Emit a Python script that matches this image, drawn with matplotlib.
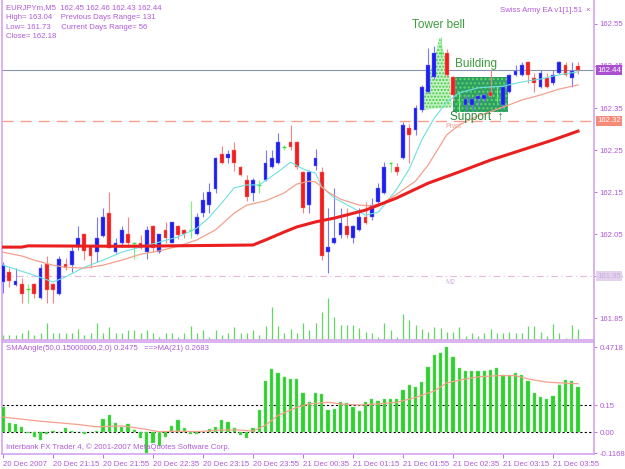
import matplotlib
matplotlib.use("Agg")
import matplotlib.pyplot as plt
from matplotlib.patches import Polygon, Rectangle

plt.rcParams['font.family'] = ['Liberation Sans', 'DejaVu Sans']

# ---- price bars (EURJPYm, M5), bar 0 = 20 Dec 20:35 ----
opens = [161.936, 161.960, 161.929, 161.931, 161.919, 161.931, 161.898, 161.979, 161.931, 161.907,
         161.979, 161.976, 162.019, 162.050, 162.019, 162.007, 162.045, 162.100, 162.007, 162.029,
         162.050, 162.029, 162.029, 162.007, 162.069, 162.007, 162.060, 162.029, 162.069, 162.060,
         162.060, 162.050, 162.100, 162.119, 162.157, 162.240, 162.231, 162.250, 162.210, 162.179,
         162.148, 162.167, 162.179, 162.210, 162.219, 162.257, 162.269, 162.269, 162.198, 162.119,
         162.212, 162.198, 162.007, 162.029, 162.048, 162.069, 162.040, 162.060, 162.090, 162.090,
         162.126, 162.148, 162.219, 162.210, 162.231, 162.302, 162.298, 162.345, 162.388, 162.424,
         162.482, 162.481, 162.424, 162.365, 162.357, 162.357, 162.371, 162.371, 162.388, 162.376,
         162.357, 162.388, 162.429, 162.429, 162.460, 162.421, 162.400, 162.421, 162.410, 162.433,
         162.452, 162.421, 162.450]
highs = [161.983, 161.969, 161.969, 161.945, 161.931, 161.933, 161.979, 161.998, 161.933, 161.998,
         161.993, 162.019, 162.069, 162.052, 162.021, 162.090, 162.112, 162.150, 162.040, 162.069,
         162.090, 162.031, 162.048, 162.069, 162.071, 162.050, 162.079, 162.079, 162.071, 162.062,
         162.129, 162.100, 162.150, 162.171, 162.233, 162.260, 162.250, 162.269, 162.212, 162.190,
         162.183, 162.179, 162.250, 162.250, 162.290, 162.262, 162.310, 162.271, 162.200, 162.202,
         162.252, 162.210, 162.112, 162.160, 162.112, 162.112, 162.071, 162.112, 162.126, 162.136,
         162.171, 162.221, 162.221, 162.219, 162.317, 162.312, 162.357, 162.405, 162.493, 162.498,
         162.519, 162.490, 162.426, 162.388, 162.381, 162.376, 162.386, 162.386, 162.440, 162.400,
         162.402, 162.431, 162.452, 162.460, 162.462, 162.433, 162.440, 162.433, 162.440, 162.462,
         162.460, 162.460, 162.460]
lows = [161.910, 161.924, 161.927, 161.886, 161.886, 161.898, 161.896, 161.886, 161.886, 161.905,
        161.964, 161.960, 162.012, 161.988, 161.969, 161.983, 162.043, 162.017, 162.005, 162.019,
        162.019, 161.990, 162.014, 161.990, 162.007, 162.005, 162.029, 162.029, 162.038, 162.040,
        162.040, 162.048, 162.090, 162.100, 162.148, 162.217, 162.219, 162.200, 162.188, 162.129,
        162.129, 162.148, 162.176, 162.207, 162.217, 162.250, 162.250, 162.205, 162.100, 162.100,
        162.202, 161.988, 161.957, 162.026, 162.040, 162.040, 162.029, 162.057, 162.074, 162.083,
        162.124, 162.145, 162.198, 162.190, 162.229, 162.219, 162.286, 162.340, 162.386, 162.420,
        162.470, 162.424, 162.369, 162.340, 162.345, 162.345, 162.352, 162.365, 162.376, 162.364,
        162.350, 162.386, 162.426, 162.426, 162.410, 162.388, 162.398, 162.398, 162.405, 162.431,
        162.426, 162.400, 162.430]
closes = [161.976, 161.938, 161.938, 161.907, 161.919, 161.907, 161.969, 161.917, 161.917, 161.990,
          161.969, 162.010, 162.040, 162.010, 161.998, 162.040, 162.090, 162.017, 162.029, 162.060,
          162.029, 162.029, 162.017, 162.060, 162.017, 162.050, 162.040, 162.079, 162.048, 162.050,
          162.060, 162.090, 162.131, 162.150, 162.231, 162.219, 162.240, 162.219, 162.190, 162.138,
          162.179, 162.167, 162.219, 162.231, 162.269, 162.257, 162.257, 162.210, 162.112, 162.198,
          162.231, 161.998, 162.019, 162.040, 162.076, 162.048, 162.069, 162.090, 162.076, 162.119,
          162.160, 162.210, 162.219, 162.198, 162.310, 162.286, 162.350, 162.400, 162.452, 162.481,
          162.482, 162.429, 162.381, 162.365, 162.371, 162.371, 162.379, 162.381, 162.379, 162.376,
          162.400, 162.429, 162.438, 162.452, 162.429, 162.410, 162.433, 162.400, 162.429, 162.460,
          162.429, 162.438, 162.440]
volumes = [15, 15, 15, 20, 30, 15, 20, 52, 20, 20, 20, 22, 32, 15, 22, 52, 20, 38, 22, 22,
           30, 30, 20, 30, 20, 10, 20, 20, 10, 20, 42, 22, 30, 10, 30, 15, 20, 40, 20, 20,
           30, 15, 42, 100, 42, 20, 32, 22, 50, 30, 52, 85, 125, 70, 45, 45, 45, 37, 25, 20,
           10, 52, 30, 10, 78, 60, 45, 32, 25, 40, 35, 25, 25, 40, 12, 20, 12, 20, 32, 20,
           20, 25, 20, 20, 42, 42, 25, 12, 48, 20, 5, 45, 32]

# ---- moving averages (bar index, price) ----
fast_ma_idx = [0, 5, 8, 10, 13, 16, 19, 22, 25, 28, 31, 33, 35, 37, 39, 41, 44, 46, 48, 50,
               51, 53, 56, 58, 60, 61, 63, 65, 67, 69, 71, 73, 76, 80, 83, 86, 89, 92]
fast_ma = [161.976, 161.952, 161.936, 161.948, 161.971, 161.988, 162.007, 162.019, 162.031, 162.043,
           162.064, 162.090, 162.124, 162.160, 162.167, 162.167, 162.198, 162.221, 162.205, 162.195,
           162.162, 162.136, 162.112, 162.095, 162.102, 162.119, 162.157, 162.205, 162.274, 162.326,
           162.364, 162.386, 162.398, 162.402, 162.412, 162.419, 162.429, 162.436]
slow_ma_idx = [0, 3, 5, 8, 10, 13, 16, 19, 22, 25, 28, 31, 34, 37, 39, 42, 45, 47, 49, 50,
               52, 54, 57, 59, 61, 63, 66, 68, 69, 71, 73, 76, 80, 83, 86, 89, 92]
slow_ma = [162.007, 161.998, 161.988, 161.976, 161.971, 161.969, 161.976, 161.988, 162.002, 162.010,
           162.021, 162.036, 162.060, 162.100, 162.119, 162.129, 162.148, 162.169, 162.176, 162.174,
           162.150, 162.133, 162.119, 162.117, 162.126, 162.145, 162.176, 162.214, 162.238, 162.286,
           162.310, 162.331, 162.352, 162.369, 162.381, 162.395, 162.405]
ma50_idx = [0, 3, 4, 20, 40, 42, 45, 47, 50, 53, 58, 63, 68, 73, 78, 83, 88, 92]
ma50 = [162.019, 162.019, 162.022, 162.021, 162.024, 162.036, 162.055, 162.067, 162.079, 162.088,
        162.107, 162.136, 162.171, 162.198, 162.226, 162.250, 162.274, 162.295]

# ---- SMAAngle sub window ----
angle = [0.137, 0.052, 0.042, 0.029, -0.007, -0.025, -0.043, -0.013, 0.005, 0.002,
         0.024, 0.005, 0.002, -0.011, 0.002, 0.005, 0.071, 0.092, 0.052, 0.029,
         0.042, 0.011, -0.034, -0.1168, -0.060, -0.075, -0.030, 0.034, 0.065, 0.020,
         -0.013, -0.013, 0.002, 0.016, 0.029, 0.065, 0.056, 0.024, -0.016, -0.034,
         0.020, 0.125, 0.282, 0.351, 0.327, 0.304, 0.295, 0.295, 0.219, 0.165,
         0.215, 0.210, 0.125, 0.128, 0.165, 0.161, 0.137, 0.119, 0.165, 0.183,
         0.174, 0.186, 0.186, 0.183, 0.233, 0.259, 0.251, 0.277, 0.363, 0.427,
         0.439, 0.4718, 0.414, 0.354, 0.340, 0.340, 0.340, 0.340, 0.345, 0.354,
         0.318, 0.318, 0.327, 0.318, 0.282, 0.219, 0.192, 0.186, 0.201, 0.259,
         0.291, 0.282, 0.2475]
angle_ma_idx = [0, 6, 12, 15, 19, 22, 25, 28, 31, 35, 38, 40, 42, 44, 47, 49, 52, 54, 57, 60,
                63, 66, 69, 71, 74, 76, 79, 82, 84, 87, 89, 92]
angle_ma = [0.083, 0.060, 0.042, 0.029, 0.034, 0.020, 0.002, 0.005, 0.002, 0.011, 0.011, 0.005,
            0.038, 0.092, 0.137, 0.156, 0.165, 0.156, 0.150, 0.156, 0.165, 0.192, 0.228, 0.273,
            0.295, 0.306, 0.313, 0.313, 0.295, 0.277, 0.273, 0.2683]

time_tick_idx = [0, 8, 16, 24, 32, 40, 48, 56, 64, 72, 80, 88]
time_labels = ["20 Dec 2007", "20 Dec 21:15", "20 Dec 21:55", "20 Dec 22:35", "20 Dec 23:15",
               "20 Dec 23:55", "21 Dec 00:35", "21 Dec 01:15", "21 Dec 01:55", "21 Dec 02:35",
               "21 Dec 03:15", "21 Dec 03:55"]
price_ticks = [161.85, 161.95, 162.05, 162.15, 162.25, 162.35, 162.45, 162.55]
angle_ticks = [0.4718, 0.15, 0.0, -0.1168]
angle_tick_labels = ["0.4718", "0.15", "0.00", "-0.1168"]

# chart objects (time index, price)
tower_bell = [(66.7, 162.345), (69.9, 162.519), (71.4, 162.429), (71.8, 162.352)]
building_box = (72.0, 162.340, 80.8, 162.424)
bid_price = 162.44
pivot = 162.32
m2 = 161.95

PURPLE = '#b05ad8'
FRAME = '#d4a4ec'
W, H = 625, 469
FS = 5.6


def px_rect(x0, y0, x1, y1):
    return [x0 / W, 1 - y1 / H, (x1 - x0) / W, (y1 - y0) / H]


fig = plt.figure(figsize=(6.25, 4.69), dpi=100, facecolor='white')
ax = fig.add_axes(px_rect(2, 0, 594, 340))
axs = fig.add_axes(px_rect(2, 342, 594, 454))

n = len(opens)
idx = list(range(n))
xlim = (-0.16, 94.56)

# volumes at the bottom of the main window
ax.vlines(idx, 0, [v / 1020 for v in volumes], transform=ax.get_xaxis_transform(),
          colors='#62d862', lw=0.9, zorder=1)

# horizontal levels
ax.axhline(bid_price, color='#8796ae', lw=0.8, zorder=2)
ax.axhline(pivot, color='#f4a190', lw=1.0, dashes=(8, 5), zorder=2)
ax.axhline(m2, color='#e8b8dc', lw=0.8, dashes=(6, 3, 1, 3), zorder=2)

# pattern objects
ax.add_patch(Polygon(tower_bell, closed=True, facecolor='#c6f3c6', edgecolor='#45c845',
                     hatch='.....', lw=0, zorder=2))
bx0, by0, bx1, by1 = building_box
ax.add_patch(Rectangle((bx0, by0), bx1 - bx0, by1 - by0, facecolor='#2e9e66',
                       edgecolor='#63d863', hatch='....', lw=0, zorder=2))

# candles
for i in idx:
    o, h, l, c = opens[i], highs[i], lows[i], closes[i]
    if c > o:
        body, wick = '#1e1ef0', '#7878ff'
    elif c < o:
        body, wick = '#f01e1e', '#ff8080'
    else:
        body, wick = '#3ede3e', '#7cf07c'
    ax.vlines(i, l, h, colors=wick, lw=0.8, zorder=3)
    if c == o:
        ax.hlines(c, i - 0.3, i + 0.3, colors=body, lw=1.0, zorder=4)
    else:
        ax.bar(i, max(abs(c - o), 0.002), bottom=min(o, c), width=0.62, color=body,
               edgecolor=wick, lw=0.3, zorder=4)

# moving averages
ax.plot(fast_ma_idx, fast_ma, color='#6ee0e0', lw=0.8, zorder=5)
ax.plot(slow_ma_idx, slow_ma, color='#f4a08c', lw=0.9, zorder=5)
ax.plot(ma50_idx, ma50, color='#ea2020', lw=2.2, zorder=5)

ax.set_xlim(*xlim)
ax.set_ylim(161.798, 162.607)
ax.set_xticks([])
ax.yaxis.tick_right()
ax.set_yticks(price_ticks)
ax.set_yticklabels([f"{p:.2f}" for p in price_ticks])
ax.tick_params(axis='y', colors=PURPLE, labelsize=FS, length=2, width=0.6, pad=2)
for side in ['left', 'right', 'bottom']:
    ax.spines[side].set_color(FRAME)
    ax.spines[side].set_linewidth(1.2)
ax.spines['top'].set_visible(False)

# price boxes on the right scale
for val, fc, tc in [(bid_price, '#a94fcf', 'white'), (pivot, '#f58a78', 'white'),
                    (m2, '#e2d2ee', '#c8b0dc')]:
    ax.annotate(f"{val:.2f}", xy=(1, val), xycoords=('axes fraction', 'data'),
                xytext=(2.2, 0), textcoords='offset points', va='center', ha='left',
                fontsize=FS, color=tc, zorder=10, annotation_clip=False,
                bbox=dict(boxstyle='square,pad=0.2', fc=fc, ec='none'))

# labels on chart
ax.text(65.4, 162.548, "Tower bell", color='#3c9c3c', fontsize=8.5, ha='left', va='center', zorder=6)
ax.text(72.3, 162.455, "Building", color='#3c9c3c', fontsize=8.5, ha='left', va='center', zorder=6)
ax.text(71.5, 162.328, "Support  \u2191", color='#2e8a3a', fontsize=8.5, ha='left', va='center', zorder=6)
ax.text(70.8, 162.305, "Pivot", color='#f4a190', fontsize=5.2, ha='left', va='center', zorder=6)
ax.text(70.8, 161.936, "M2", color='#d8b4e4', fontsize=5.2, ha='left', va='center', zorder=6)

header = ["EURJPYm,M5  162.45 162.46 162.43 162.44",
          "High= 163.04    Previous Days Range= 131",
          "Low= 161.73     Current Days Range= 56",
          "Close= 162.18"]
for k, line in enumerate(header):
    fig.text(6 / W, 1 - (8 + 9.6 * k) / H, line, color=PURPLE, fontsize=FS, va='center', ha='left')
fig.text(582 / W, 1 - 10 / H, "Swiss Army EA v1[1].51", color=PURPLE, fontsize=FS, va='center', ha='right')
fig.text(588 / W, 1 - 10 / H, "\u00d7", color=PURPLE, fontsize=FS, va='center', ha='center')

# sub window
axs.bar(idx, angle, width=0.5, color='#2fcf2f', edgecolor='#7fe47f', lw=0.3, zorder=3)
axs.plot(angle_ma_idx, angle_ma, color='#f4a08c', lw=0.9, zorder=4)
axs.axhline(0.15, color='black', lw=0.8, ls=(0, (2, 2)), zorder=2)
axs.axhline(0.0, color='black', lw=0.8, ls=(0, (2, 2)), zorder=2)
axs.set_xlim(*xlim)
axs.set_ylim(-0.122, 0.5)
axs.yaxis.tick_right()
axs.set_yticks(angle_ticks)
axs.set_yticklabels(angle_tick_labels)
axs.tick_params(axis='y', colors=PURPLE, labelsize=FS, length=2, width=0.6, pad=2)
axs.set_xticks(time_tick_idx)
axs.set_xticklabels(time_labels)
axs.tick_params(axis='x', colors=PURPLE, labelsize=FS, length=3, width=0.6, pad=2)
for lbl in axs.get_xticklabels():
    lbl.set_ha('left')
for side in ['left', 'right', 'bottom', 'top']:
    axs.spines[side].set_color(FRAME)
    axs.spines[side].set_linewidth(1.2)
axs.text(0.006, 0.94, "SMAAngle(50,0.15000000,2,0) 0.2475   ==>MA(21) 0.2683",
         transform=axs.transAxes, color=PURPLE, fontsize=FS, va='center', ha='left')
axs.text(0.006, 0.06, "Interbank FX Trader 4, \u00a9 2001-2007 MetaQuotes Software Corp.",
         transform=axs.transAxes, color=PURPLE, fontsize=FS, va='center', ha='left')

fig.savefig("out.png", dpi=100, facecolor='white')
